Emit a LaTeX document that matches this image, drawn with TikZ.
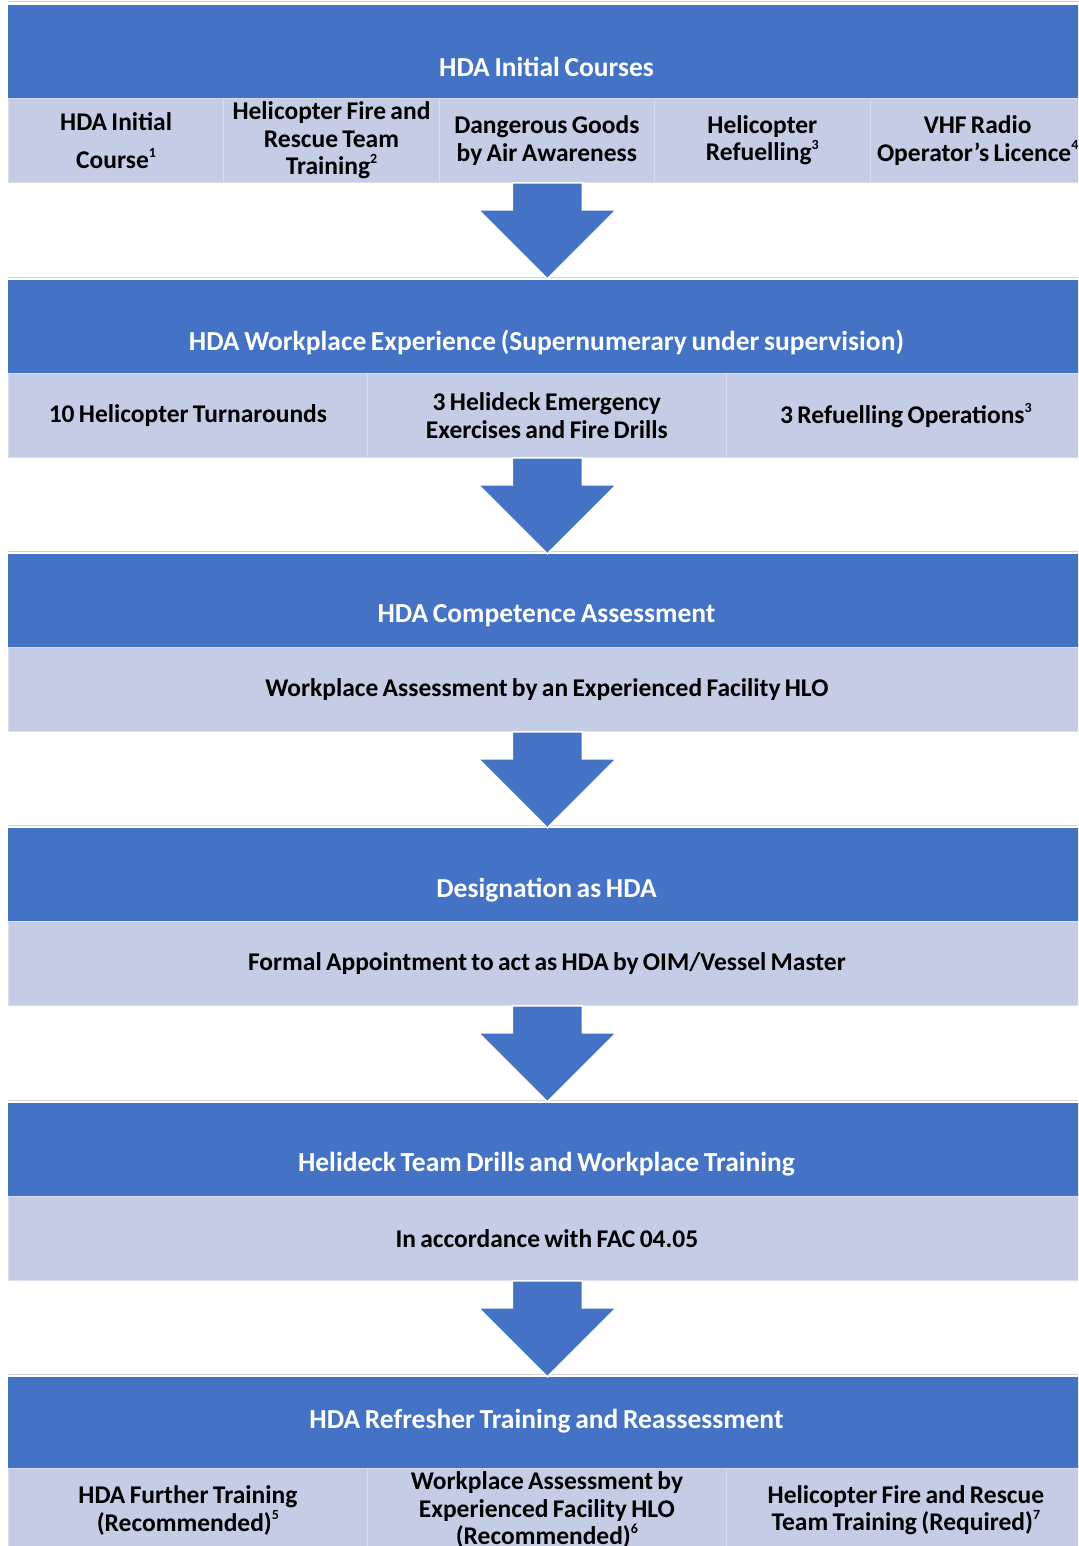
\documentclass[tikz,border=0pt]{standalone}
\usepackage{fontspec}
\setmainfont{Carlito}
\definecolor{hblue}{HTML}{4472C4}
\definecolor{hlight}{RGB}{197,205,230}
\definecolor{hline}{RGB}{218,223,240}
\newcommand{\tightspaces}{\spaceskip=0.17em\xspaceskip=0.17em\relax}
\tikzset{
  hdr/.style={fill=hblue, draw=none, anchor=north west, minimum width=1077pt, minimum height=93pt, inner sep=0pt},
  ttl/.style={text=white, inner sep=0pt, font=\fontsize{27.5}{32}\selectfont\bfseries\tightspaces},
  cell/.style={fill=hlight, draw=hline, line width=0.8pt, anchor=north west, minimum height=84pt, inner sep=0pt, align=center, font=\fontsize{25.5}{27.5}\selectfont\bfseries, text=black, execute at begin node=\tightspaces},
  fivecell/.style={cell, minimum width=215.4pt, text width=215.4pt},
  threecell/.style={cell, minimum width=359pt, text width=359pt},
  onecell/.style={cell, minimum width=1077pt, text width=1077pt},
  toprule/.style={draw=black!18, line width=1pt},
  harrow/.pic={\path[fill=hblue, draw=white, line width=1.5pt] (-35,0) -- (35,0) -- (35,27) -- (69,27) -- (0,96) -- (-69,27) -- (-35,27) -- cycle;}
}
\newcommand{\sups}[1]{\raisebox{0.45em}{\fontsize{14}{14}\selectfont #1}}
\begin{document}
\begin{tikzpicture}[x=1pt, y=-1pt]
\useasboundingbox (0,0) rectangle (1078,1546);
\clip (0,0) rectangle (1078,1546);
\fill[white] (0,0) rectangle (1078,1546);

% ---------- Block 1 ----------
\node[hdr] (h1) at (8,5) {};
\draw[toprule] ([yshift=3pt]h1.north west) -- ([yshift=3pt]h1.north east);
\node[ttl] (t1) at (546.5,67) {HDA Initial Courses};
\node[fivecell] (c11) at (8,98) {HDA Initial\\[11pt]Course\sups{1}};
\node[fivecell] (c12) at (223.4,98) {Helicopter Fire and\\Rescue Team\\Training\sups{2}};
\node[fivecell] (c13) at (438.8,98) {Dangerous Goods\\by Air Awareness};
\node[fivecell] (c14) at (654.2,98) {Helicopter\\Refuelling\sups{3}};
\node[fivecell] (c15) at (869.6,98) {VHF Radio\\Operator's Licence\sups{4}};

% ---------- Block 2 ----------
\node[hdr] (h2) at (8,280) {};
\draw[toprule] ([yshift=3pt]h2.north west) -- ([yshift=3pt]h2.north east);
\node[ttl] (t2) at (546.5,342) {HDA Workplace Experience (Supernumerary under supervision)};
\node[threecell] (c21) at (8,373) {10 Helicopter Turnarounds};
\node[threecell] (c22) at (367,373) {3 Helideck Emergency\\Exercises and Fire Drills};
\node[threecell] (c23) at (726,373) {3 Refuelling Operations\sups{3}};

% ---------- Block 3 ----------
\node[hdr] (h3) at (8,554) {};
\draw[toprule] ([yshift=3pt]h3.north west) -- ([yshift=3pt]h3.north east);
\node[ttl] (t3) at (546.5,616) {HDA Competence Assessment};
\node[onecell] (c31) at (8,647) {Workplace Assessment by an Experienced Facility HLO};

% ---------- Block 4 ----------
\node[hdr] (h4) at (8,828) {};
\draw[toprule] ([yshift=3pt]h4.north west) -- ([yshift=3pt]h4.north east);
\node[ttl] (t4) at (546.5,890) {Designation as HDA};
\node[onecell] (c41) at (8,921) {Formal Appointment to act as HDA by OIM/Vessel Master};

% ---------- Block 5 ----------
\node[hdr] (h5) at (8,1103) {};
\draw[toprule] ([yshift=3pt]h5.north west) -- ([yshift=3pt]h5.north east);
\node[ttl] (t5) at (546.5,1164) {Helideck Team Drills and Workplace Training};
\node[onecell] (c51) at (8,1196) {In accordance with FAC 04.05};

% ---------- Block 6 ----------
\node[hdr, minimum height=91pt] (h6) at (8,1377) {};
\draw[toprule] ([yshift=3pt]h6.north west) -- ([yshift=3pt]h6.north east);
\node[ttl] (t6) at (546.5,1421) {HDA Refresher Training and Reassessment};
\node[threecell] (c61) at (8,1468) {HDA Further Training\\(Recommended)\sups{5}};
\node[threecell] (c62) at (367,1468) {Workplace Assessment by\\Experienced Facility HLO\\(Recommended)\sups{6}};
\node[threecell] (c63) at (726,1468) {Helicopter Fire and Rescue\\Team Training (Required)\sups{7}};

% ---------- Arrows ----------
\coordinate (a1) at ([xshift=0.5pt]c13.south);
\coordinate (a2) at ([xshift=0.5pt]c22.south);
\coordinate (a3) at ([xshift=0.5pt]c31.south);
\coordinate (a4) at ([xshift=0.5pt]c41.south);
\coordinate (a5) at ([xshift=0.5pt]c51.south);
\pic at (a1) {harrow};
\pic at (a2) {harrow};
\pic at (a3) {harrow};
\pic at (a4) {harrow};
\pic at (a5) {harrow};
\end{tikzpicture}
\end{document}
